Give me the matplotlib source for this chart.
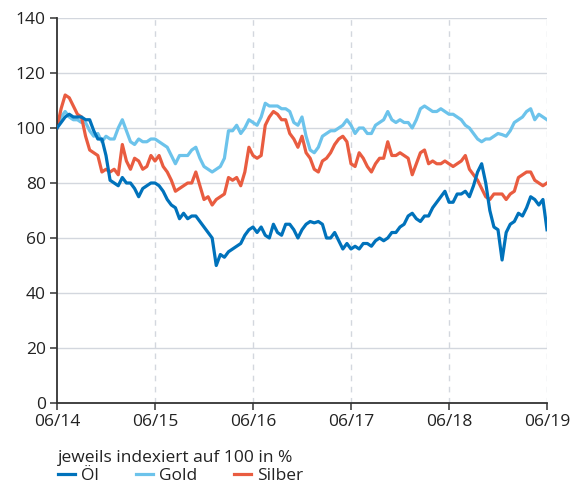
import numpy as np
import matplotlib.pyplot as plt

plt.rcParams['font.family'] = ['Open Sans', 'DejaVu Sans']

# half-monthly readings, 06/2014 .. 06/2019, index = 100 at start
oel = [100, 102, 104, 105, 104, 104, 104, 103, 103, 99, 96, 96, 90, 81, 80, 79, 82, 80, 80, 78, 75, 78, 79, 80, 80,
       79, 77, 74, 72, 71, 67, 69, 67, 68, 68, 66, 64, 62, 60, 50, 54, 53, 55, 56, 57, 58, 61, 63, 64,
       62, 64, 61, 60, 65, 62, 61, 65, 65, 63, 60, 63, 65, 66, 65.5, 66, 65, 60, 60, 62, 59, 56, 58, 56,
       57, 56, 58, 58, 57, 59, 60, 59, 60, 62, 62, 64, 65, 68, 69, 67, 66, 68, 68, 71, 73, 75, 77, 73,
       73, 76, 76, 77, 75, 79, 84, 87, 80, 70, 64, 63, 52, 62, 65, 66, 69, 68, 71, 75, 74, 72, 74, 63]
gold = [100, 104, 106, 104, 103, 103, 102, 102, 99, 97, 98, 95, 97, 96, 96, 100, 103, 99, 95, 94, 96, 95, 95, 96, 96,
        95, 94, 93, 90, 87, 90, 90, 90, 92, 93, 89, 86, 85, 84, 85, 86, 89, 99, 99, 101, 98, 100, 103, 102,
        101, 104, 109, 108, 108, 108, 107, 107, 106, 102, 101, 104, 97, 92, 91, 93, 97, 98, 99, 99, 100, 101, 103, 101,
        98, 100, 100, 98, 98, 101, 102, 103, 106, 103, 102, 103, 102, 102, 100, 103, 107, 108, 107, 106, 106, 107, 106, 105,
        105, 104, 103, 101, 100, 98, 96, 95, 96, 96, 97, 98, 97.6, 97, 99, 102, 103, 104, 106, 107, 103, 105, 104, 103]
silber = [100, 107, 112, 111, 108, 105, 104, 97, 92, 91, 90, 84, 85, 84, 85, 83, 94, 88, 85, 89, 88, 85, 86, 90, 88,
          90, 86, 84, 81, 77, 78, 79, 80, 80, 84, 79, 74, 75, 72, 74, 75, 76, 82, 81, 82, 79, 84, 93, 90,
          89, 90, 101, 104, 106, 105, 103, 103, 98, 96, 93, 97, 91, 89, 85, 84, 88, 89, 91, 94, 96, 97, 95, 87,
          86, 91, 89, 86, 84, 87, 89, 89, 95, 90, 90, 91, 90, 89, 83, 87, 91, 92, 87, 88, 87, 87, 88, 87,
          86, 87, 88, 90, 85, 83, 81, 78, 75, 74, 76, 76, 76, 74, 76, 77, 82, 83, 84, 84, 81, 80, 79, 80]

x_labels = ['06/14', '06/15', '06/16', '06/17', '06/18', '06/19']
y_ticks = [0, 20, 40, 60, 80, 100, 120, 140]

c_oel = '#0072bb'
c_gold = '#6cc3eb'
c_silber = '#e95c40'
fs = 12.5

t = np.arange(len(oel)) / 24.0

fig = plt.figure(figsize=(5.78, 4.87), dpi=100)
ax = fig.add_axes([57 / 578, 1 - 403 / 487, 490 / 578, 385 / 487])

for yv in y_ticks[1:]:
    ax.axhline(yv, color='#d3d7de', lw=1.0, zorder=0)
for xv in range(1, 6):
    ax.axvline(xv, color='#d3d7de', lw=1.0, ls=(0, (4, 4)), zorder=0)

l1, = ax.plot(t, oel, color=c_oel, lw=2.3, label='Öl', zorder=3)
l2, = ax.plot(t, gold, color=c_gold, lw=2.3, label='Gold', zorder=2)
l3, = ax.plot(t, silber, color=c_silber, lw=2.3, label='Silber', zorder=2.5)

ax.set_xlim(0, 5)
ax.set_ylim(0, 140)
ax.set_xticks(range(6))
ax.set_xticklabels(x_labels)
ax.set_yticks(y_ticks)

for s in ['top', 'right']:
    ax.spines[s].set_visible(False)
for s in ['left', 'bottom']:
    ax.spines[s].set_color('#333333')
    ax.spines[s].set_linewidth(1.3)
ax.tick_params(axis='both', colors='#333333', labelsize=fs, length=5, width=1.1, labelcolor='#222222')
ax.tick_params(axis='x', pad=3)
ax.tick_params(axis='y', pad=3)

fig.text(58 / 578, 1 - 458 / 487, 'jeweils indexiert auf 100 in %', fontsize=fs, color='#222222', va='center')
fig.legend(handles=[l1, l2, l3], loc='center left', bbox_to_anchor=(58 / 578, 1 - 476 / 487),
           ncol=3, frameon=False, fontsize=fs, handlelength=1.0, handletextpad=0.35,
           columnspacing=2.1, borderpad=0, borderaxespad=0, labelcolor='#222222')

fig.savefig('out.png', dpi=100)
